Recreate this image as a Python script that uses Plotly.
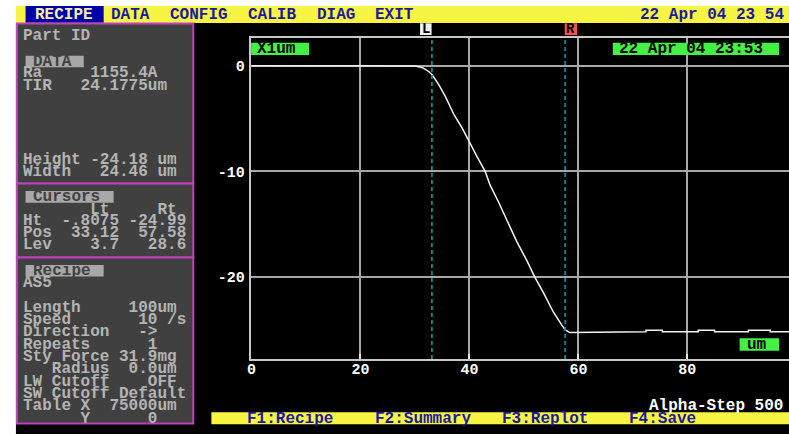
import plotly.graph_objects as go

W, H = 789, 434

# ---------------- data ----------------
profile_x = [0, 27.7, 30.1, 31.4, 32.6, 33.2, 34.4, 35.6, 37.2, 38.7, 40.0, 41.4, 42.9,
             43.8, 45.3, 46.9, 48.7, 50.5, 52.0, 53.6, 55.4, 56.9, 57.6, 58.4, 66.9,
             66.9, 72.4, 72.4, 75.4, 75.4, 82.0, 82.0, 85.0, 85.0, 91.2, 91.2, 95.2,
             95.2, 100]
profile_y = [0, 0, -0.03, -0.19, -0.57, -0.88, -1.82, -2.93, -4.66, -5.93, -7.25, -8.6,
             -10.0, -11.3, -12.85, -14.6, -16.65, -18.4, -20.0, -21.5, -23.3, -24.5,
             -25.0, -25.25, -25.25, -25.18, -25.18, -25.02, -25.02, -25.18, -25.18,
             -25.02, -25.02, -25.18, -25.18, -25.02, -25.02, -25.18, -25.18]
cursor_left = 33.12
cursor_right = 57.58
x_ticks = [0, 20, 40, 60, 80]
y_ticks = [0, -10, -20]
x_range = [0, 98.65]
y_range = [-27.75, 2.62]

menu_items = ["RECIPE", "DATA", "CONFIG", "CALIB", "DIAG", "EXIT"]
menu_x = [33, 110, 169, 248, 317, 375]
menu_clock = "22 Apr 04 23 54"
fkeys = ["F1:Recipe", "F2:Summary", "F3:Replot", "F4:Save"]
fkeys_x = [247, 375, 503, 631]

data_lines = ["Ra     1155.4A", "TIR   24.1775um"]
dim_lines = ["Height -24.18 um", "Width   24.46 um"]
cursor_lines = ["       Lt     Rt", "Ht  -.8075 -24.99", "Pos  33.12  57.58", "Lev    3.7   28.6"]
recipe_lines = ["Length     100um", "Speed       10 /s", "Direction   ->", "Repeats      1",
                "Sty Force 31.9mg", "   Radius  0.0um", "LW Cutoff    OFF",
                "SW Cutoff Default", "Table X  75000um", "      Y      0"]
scale_label = "X1um"
scan_time = "22 Apr 04 23:53"
unit_label = "um"
instrument = "Alpha-Step 500"

# ---------------- colours / fonts ----------------
YELLOW = "#f7f444"
NAVY = "#1a1aa0"
PANEL = "#404040"
MAGENTA = "#c040c0"
PTEXT = "#b4b4b4"
LABELBOX = "#a8a8a8"
GREEN = "#44f044"
GRID = "#a8a8a8"
TEAL = "#009090"
FONT = "Liberation Mono"


def fx(x):
    return x / W


def fy(y):
    return 1 - y / H


shapes = []
annotations = []


def rect(x0, y0, x1, y1, fill, line=None, lw=0, layer="below"):
    shapes.append(dict(type="rect", xref="paper", yref="paper",
                       x0=fx(x0), x1=fx(x1), y0=fy(y1), y1=fy(y0),
                       fillcolor=fill, layer=layer,
                       line=dict(color=line or fill, width=lw)))


def text(x, y, s, color, size=16, anchor="left"):
    if anchor == "left":
        x -= 4
    annotations.append(dict(x=fx(x), y=fy(y), xref="paper", yref="paper",
                            text=s.replace(" ", "\u00a0"), showarrow=False,
                            xanchor=anchor, yanchor="middle", borderpad=0,
                            font=dict(family=FONT, size=size, color=color, weight="bold")))


# screen background
rect(11, 23, 789, 434, "#000000")
# top menu bar
rect(11, 6, 789, 23, YELLOW)
rect(20.7, 6, 99.3, 22.7, "#0000a8")
for i, (m, mx) in enumerate(zip(menu_items, menu_x)):
    text(mx, 14.5, m, "#f4f0a0" if i == 0 else NAVY)
text(642, 14.5, menu_clock, NAVY)

# bottom function key bar
rect(207.7, 412.3, 789, 424.3, YELLOW)
for k, kx in zip(fkeys, fkeys_x):
    text(kx, 418.5, k, NAVY)
text(651, 406, instrument, "#ffffff")

# left panels
rect(12, 23.5, 189.5, 183.5, PANEL, MAGENTA, 2)
rect(12, 183.5, 189.5, 257.5, PANEL, MAGENTA, 2)
rect(12, 257.5, 189.5, 423.5, PANEL, MAGENTA, 2)

# panel 1
text(20.7, 36, "Part ID", PTEXT)
rect(20.7, 55.7, 79.3, 67.3, LABELBOX, layer="above")
text(30.7, 61.8, "DATA", PANEL)
for i, s in enumerate(data_lines):
    text(20.7, 73.5 + 12.2 * i, s, PTEXT)
for i, s in enumerate(dim_lines):
    text(20.7, 159.5 + 12.3 * i, s, PTEXT)

# panel 2
rect(20.7, 191, 109.3, 202.7, LABELBOX, layer="above")
text(30.7, 197, "Cursors", PANEL)
for i, s in enumerate(cursor_lines):
    text(20.7, 209.5 + 11.85 * i, s, PTEXT)

# panel 3
rect(20.7, 265, 99.3, 276.5, LABELBOX, layer="above")
text(30.7, 271, "Recipe", PANEL)
text(20.7, 282.8, "AS5", PTEXT)
for i, s in enumerate(recipe_lines):
    text(20.7, 307.8 + 12.3 * i, s, PTEXT)

# green labels on plot
rect(247.7, 42.7, 306, 55, GREEN, layer="above")
text(256.5, 49, scale_label, "#000000")
rect(611.7, 42.7, 779, 55, GREEN, layer="above")
text(621, 49, scan_time, "#000000")
rect(739.3, 338.3, 779, 350.7, GREEN, layer="above")
text(749.3, 344.6, unit_label, "#000000")

# cursor flags
rect(417.7, 23.3, 429.3, 35, "#f0f0f0", layer="above")
text(423.5, 29.3, "L", "#000000", size=14, anchor="center")
rect(563.3, 23.3, 575.7, 35, "#ff5050", layer="above")
text(569.5, 29.3, "R", "#000000", size=14, anchor="center")

# cursor lines
for cx in (cursor_left, cursor_right):
    shapes.append(dict(type="line", xref="x", yref="paper", x0=cx, x1=cx,
                       y0=fy(359), y1=fy(38.5), layer="above",
                       line=dict(color=TEAL, width=1.8, dash="4px,3px")))

fig = go.Figure()
fig.add_trace(go.Scatter(x=profile_x, y=profile_y, mode="lines",
                         line=dict(color="#f2f2f2", width=1.5), hoverinfo="skip",
                         showlegend=False))

fig.update_layout(
    width=W, height=H, margin=dict(l=0, r=0, t=0, b=0),
    paper_bgcolor="#ffffff", plot_bgcolor="#000000",
    shapes=shapes, annotations=annotations, showlegend=False,
    xaxis=dict(domain=[248 / W, 1], range=x_range, tickvals=x_ticks,
               ticktext=[str(v) for v in x_ticks],
               showgrid=True, gridcolor=GRID, gridwidth=1.5, zeroline=False,
               showline=True, linecolor="#c8c8c8", linewidth=1.5, mirror=True,
               ticks="inside", ticklen=5, tickcolor="#e8e8e8", tickwidth=1.5,
               ticklabelstandoff=-5,
               tickfont=dict(family=FONT, size=15, color="#ffffff", weight="bold")),
    yaxis=dict(domain=[fy(359), fy(38)], range=y_range, tickvals=y_ticks,
               ticktext=[str(v) for v in y_ticks],
               showgrid=True, gridcolor=GRID, gridwidth=1.5, zeroline=False,
               showline=True, linecolor="#c8c8c8", linewidth=1.5,
               ticks="", ticklabelstandoff=2,
               tickfont=dict(family=FONT, size=15, color="#ffffff", weight="bold")),
)

fig.write_html("out.html", config={"displayModeBar": False},
               post_script="document.body.style.margin='0';")
